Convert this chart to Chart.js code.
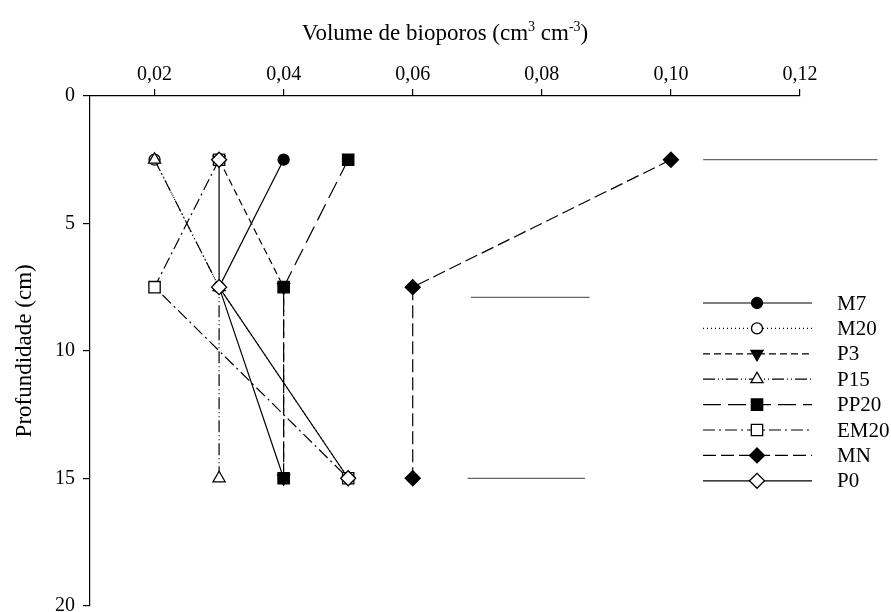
<!DOCTYPE html>
<html>
<head>
<meta charset="utf-8">
<script src="https://cdn.jsdelivr.net/npm/chart.js@4/dist/chart.umd.min.js"></script>
<style>
  html, body { margin: 0; padding: 0; background: #fff; overflow: hidden; }
  #wrap { width: 891px; height: 615px; }
</style>
</head>
<body>
<div id="wrap"><canvas id="chart"></canvas></div>
<script>
// depth of each sample (cm)
const depths = [2.5, 7.5, 15];

// bioporos volume per treatment (cm3 cm-3)
const m7 = [0.04, 0.03, 0.04];
const m20 = [0.02, 0.03, 0.05];
const p3 = [0.03, 0.04, 0.04];
const p15 = [0.02, 0.03, 0.03];
const pp20 = [0.05, 0.04, 0.04];
const em20 = [0.03, 0.02, 0.05];
const mn = [0.10, 0.06, 0.06];
const p0 = [0.03, 0.03, 0.05];

// short grey bars drawn at the right of each depth
const barDepths = [2.5, 7.9, 15];
const barStart = [0.105, 0.069, 0.0685];
const barEnd = [0.132, 0.0874, 0.0867];

const xTicks = [0.02, 0.04, 0.06, 0.08, 0.10, 0.12];
const xTickLabels = ['0,02', '0,04', '0,06', '0,08', '0,10', '0,12'];
const yTicks = [0, 5, 10, 15, 20];

const serif = "'Liberation Serif', 'DejaVu Serif', serif";

function points(values) {
  return values.map((v, i) => ({ x: v, y: depths[i] }));
}

const radius = { circle: 5.5, triangle: 7, rect: 8, rectRot: 7.5 };

function series(label, values, style, fill, dash, rotation) {
  return {
    label,
    data: points(values),
    borderColor: '#000',
    borderWidth: 1.2,
    borderDash: dash,
    pointStyle: style,
    pointRotation: rotation || 0,
    pointRadius: radius[style],
    pointBorderWidth: 1.3,
    pointBorderColor: '#000',
    pointBackgroundColor: fill,
    tension: 0,
    fill: false
  };
}

const main = [
  series('M7', m7, 'circle', '#000', []),
  series('M20', m20, 'circle', '#fff', [1, 3]),
  series('P3', p3, 'triangle', '#000', [7, 4], 180),
  series('P15', p15, 'triangle', '#fff', [12, 3, 1, 3, 1, 3]),
  series('PP20', pp20, 'rect', '#000', [18, 7]),
  series('EM20', em20, 'rect', '#fff', [12, 4, 2, 4]),
  series('MN', mn, 'rectRot', '#000', [13, 5]),
  series('P0', p0, 'rectRot', '#fff', [])
];
// later datasets on top
main.forEach((d, i) => d.order = main.length - i);

const bars = barDepths.map((d, i) => ({
  label: '',
  data: [{ x: barStart[i], y: d }, { x: barEnd[i], y: d }],
  borderColor: '#666',
  borderWidth: 1.3,
  pointRadius: 0,
  clip: false
}));

const legendPlugin = {
  id: 'lineLegend',
  afterDraw(chart) {
    const ctx = chart.ctx;
    main.forEach((d, i) => {
      const y = 303 + i * 25.4;
      ctx.save();
      ctx.strokeStyle = '#000';
      ctx.lineWidth = 1.2;
      ctx.setLineDash(d.borderDash);
      ctx.beginPath();
      ctx.moveTo(703, y);
      ctx.lineTo(812, y);
      ctx.stroke();
      ctx.setLineDash([]);
      ctx.fillStyle = d.pointBackgroundColor;
      ctx.strokeStyle = '#000';
      ctx.lineWidth = 1.3;
      Chart.helpers.drawPoint(ctx, {
        pointStyle: d.pointStyle,
        rotation: d.pointRotation,
        radius: d.pointRadius,
        borderWidth: 1.3
      }, 757, y);
      ctx.fillStyle = '#000';
      ctx.font = "21px " + serif;
      ctx.textAlign = 'left';
      ctx.textBaseline = 'middle';
      ctx.fillText(d.label, 837, y + 1);
      ctx.restore();
    });
  }
};

// x axis title with real superscripts
const titlePlugin = {
  id: 'supTitle',
  afterDraw(chart) {
    const ctx = chart.ctx;
    const parts = [
      ['Volume de bioporos (cm', false],
      ['3', true],
      [' cm', false],
      ['-3', true],
      [')', false]
    ];
    const big = "23px " + serif, small = "14px " + serif;
    ctx.save();
    let w = 0;
    parts.forEach(([t, sup]) => { ctx.font = sup ? small : big; w += ctx.measureText(t).width; });
    let x = (chart.chartArea.left + chart.chartArea.right) / 2 - w / 2;
    ctx.fillStyle = '#000';
    ctx.textBaseline = 'alphabetic';
    ctx.textAlign = 'left';
    parts.forEach(([t, sup]) => {
      ctx.font = sup ? small : big;
      ctx.fillText(t, x, sup ? 31 : 40);
      x += ctx.measureText(t).width;
    });
    ctx.restore();
  }
};

new Chart(document.getElementById('chart'), {
  type: 'line',
  data: { datasets: main.concat(bars) },
  plugins: [legendPlugin, titlePlugin],
  options: {
    responsive: true,
    maintainAspectRatio: false,
    animation: false,
    layout: { padding: { top: 0, left: 0, right: 91, bottom: 6 } },
    plugins: {
      legend: { display: false },
      tooltip: { enabled: false }
    },
    scales: {
      x: {
        type: 'linear',
        position: 'top',
        min: 0.01,
        max: 0.12,
        afterBuildTicks: (scale) => { scale.ticks = xTicks.map(v => ({ value: v })); },
        afterFit: (scale) => {
          scale.height = 96;
          scale.paddingLeft = 0;
          scale.paddingRight = 0;
        },
        ticks: {
          color: '#000',
          font: { family: serif, size: 20 },
          padding: 2,
          maxRotation: 0,
          callback: (v) => xTickLabels[xTicks.indexOf(v)]
        },
        grid: { drawOnChartArea: false, tickLength: 7, color: '#000', lineWidth: 1.2 },
        border: { display: true, color: '#000', width: 1.2 }
      },
      y: {
        type: 'linear',
        reverse: true,
        min: 0,
        max: 20,
        afterBuildTicks: (scale) => { scale.ticks = yTicks.map(v => ({ value: v })); },
        afterFit: (scale) => {
          scale.width = 90;
          scale.paddingTop = 0;
          scale.paddingBottom = 0;
        },
        ticks: {
          color: '#000',
          font: { family: serif, size: 20 },
          padding: 8
        },
        grid: { drawOnChartArea: false, tickLength: 7, color: '#000', lineWidth: 1.2 },
        border: { display: true, color: '#000', width: 1.2 },
        title: {
          display: true,
          text: 'Profundidade (cm)',
          color: '#000',
          font: { family: serif, size: 23 },
          padding: { top: 11, bottom: 0 }
        }
      }
    }
  }
});
</script>
</body>
</html>
